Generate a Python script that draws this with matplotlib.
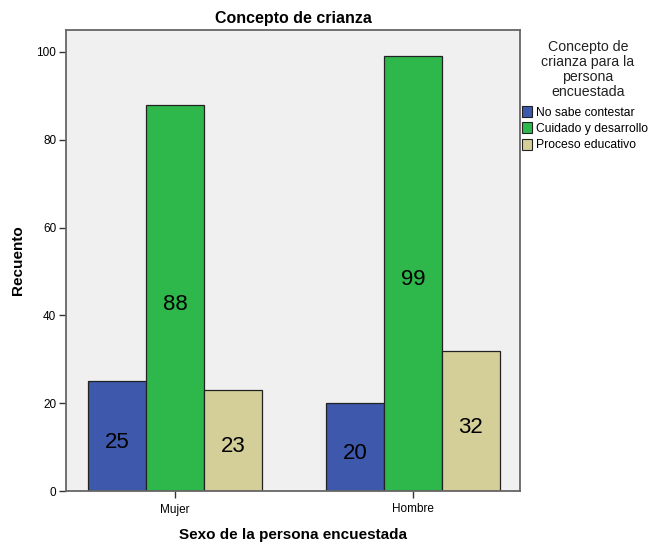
import matplotlib
matplotlib.use("Agg")
import matplotlib.pyplot as plt
import numpy as np
from matplotlib.patches import Patch
from matplotlib import font_manager

plt.rcParams['font.family'] = ['Liberation Sans', 'DejaVu Sans']
names = {f.name for f in font_manager.fontManager.ttflist}
num_family = ['Liberation Sans Narrow', 'Liberation Sans'] if 'Liberation Sans Narrow' in names else ['Liberation Sans']

categories = ["Mujer", "Hombre"]
series_names = ["No sabe contestar", "Cuidado y desarrollo", "Proceso educativo"]
no_sabe = [25, 20]
cuidado = [88, 99]
proceso = [23, 32]
colors = ["#3E58AC", "#2EB84B", "#D4CE98"]

fig = plt.figure(figsize=(6.51, 5.44), dpi=100)
ax = fig.add_axes([66/651, 1-491/544, (520-66)/651, (491-30)/544])
ax.set_facecolor("#F0F0F0")

x = np.arange(len(categories))
w = 0.244
for i, (vals, c) in enumerate(zip([no_sabe, cuidado, proceso], colors)):
    bars = ax.bar(x + (i-1)*w, vals, w, color=c, edgecolor="#222222", linewidth=0.9, zorder=2)
    for b, v in zip(bars, vals):
        ax.annotate(str(v), (b.get_x()+b.get_width()/2, v/2), xytext=(0, -4.5),
                    textcoords="offset points", ha="center", va="center",
                    fontsize=16, family=num_family, color="black", zorder=3)

ax.set_xlim(-0.458, 1.45)
ax.set_ylim(0, 105)
ax.set_yticks([0, 20, 40, 60, 80, 100])
ax.set_xticks(x)
ax.set_xticklabels(categories)
ax.tick_params(axis="both", labelsize=8.5, direction="out", length=5, width=1, color="#333333", pad=2)
ax.tick_params(axis="x", pad=4)
for s in ax.spines.values():
    s.set_color("#666666")
    s.set_linewidth(1.3)

ax.set_title("Concepto de crianza", fontsize=11.5, fontweight="bold", pad=5)
ax.set_ylabel("Recuento", fontsize=11, fontweight="bold", labelpad=8)
ax.set_xlabel("Sexo de la persona encuestada", fontsize=11, fontweight="bold", labelpad=9)

fig.text(588/651, 1-40/544, "Concepto de\ncrianza para la\npersona\nencuestada", ha="center", va="top",
         fontsize=10.2, color="#222222", linespacing=1.1)
handles = [Patch(facecolor=c, edgecolor="#222222", linewidth=0.8) for c in colors]
fig.legend(handles, series_names, loc="upper left", bbox_to_anchor=(522/651, 1-106/544),
           frameon=False, fontsize=8.7, handlelength=0.85, handleheight=1.0,
           handletextpad=0.35, labelspacing=0.32, borderaxespad=0, borderpad=0)

fig.savefig("out.png", dpi=100, facecolor="white")
